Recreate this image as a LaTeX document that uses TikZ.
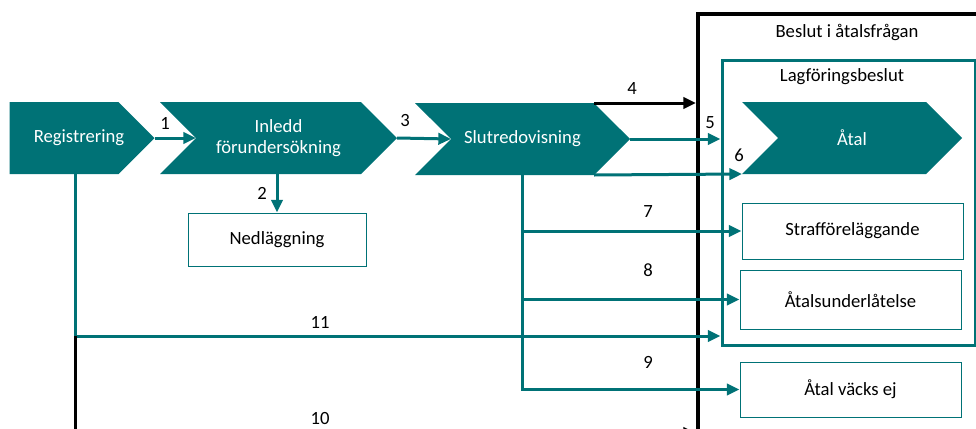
\documentclass[tikz,border=0pt]{standalone}
\usepackage{fontspec}
\setmainfont{Carlito}
\usetikzlibrary{shapes.symbols,arrows.meta,positioning}
\definecolor{petrol}{RGB}{0,114,118}

\tikzset{
  chevron/.style={signal, signal to=east, signal pointer angle=90, fill=petrol,
    text=white, minimum height=54pt, inner sep=0pt, outer sep=0pt, align=center},
  notched/.style={chevron, signal from=west},
  outcome/.style={draw=petrol, line width=0.75pt, minimum width=165.75pt, inner sep=0pt},
  flow/.style={petrol, line width=2.25pt, -{Triangle[length=9.5pt,width=8.5pt]}},
  plain/.style={petrol, line width=2.25pt},
  court/.style={black, line width=2.25pt, -{Triangle[length=9.5pt,width=8.5pt]}},
  num/.style={inner sep=0pt},
}

\begin{document}
\begin{tikzpicture}[x=0.75pt,y=-0.75pt,font=\fontsize{14}{15.5}\selectfont]
\useasboundingbox (0,0) rectangle (976,429);
\clip (0,0) rectangle (976,429);

% frames
\node[draw, line width=3pt, minimum width=226.5pt, minimum height=334.5pt] (beslut) at (849,237) {};
\node (beslutitle) at (847,32) {Beslut i åtalsfrågan};
\node[draw=petrol, line width=2.25pt, minimum width=189.75pt, minimum height=213.75pt] (lag) at (848.5,202.5) {};
\node (lagtitle) at (842,77) {Lagföringsbeslut};

% steps
\node[chevron, minimum width=108.75pt] (reg) at (64,138) {};
\node[text=white] (regtext) at (79,138) {Registrering};
\node[notched, minimum width=177.75pt] (inl) at (278.5,138) {Inledd\\förundersökning};
\node[notched, minimum width=161.25pt] (slut) at (522.5,139) {Slutredovisning};
\node[notched, minimum width=165pt] (atal) at (852,138) {Åtal};

% outcomes
\node[outcome, minimum width=133.5pt, minimum height=39.75pt] (ned) at (277,239.5) {Nedläggning};
\node[outcome, minimum height=42pt] (straff) at (852.5,231) {Strafföreläggande};
\node[outcome, minimum height=44.25pt] (under) at (850.5,299.5) {Åtalsunderlåtelse};
\node[outcome, minimum height=41.25pt] (vacks) at (850.5,389.5) {Åtal väcks ej};

\coordinate (rdrop) at (75,336);
\coordinate (rbottom) at (75,433);

% connectors
\draw[flow] (reg.east) -- (inl.west);
\draw[flow] (inl.south -| ned.north) -- (ned.north);
\draw[flow] (inl.east) -- (slut.west);
\draw[court] (slut.north east) -- (slut.north east -| beslut.west);
\draw[flow] (slut.east) -- (slut.east -| lag.west);
\draw[flow] (slut.south east) -- (atal.south west);
\draw[flow] (slut.south) |- (vacks.west);
\draw[flow] (slut.south |- straff.west) -- (straff.west);
\draw[flow] (slut.south |- under.west) -- (under.west);
\draw[plain] (reg.south -| rdrop) -- (rdrop);
\draw[flow] (rdrop) -- (rdrop -| lag.west);
\draw[court] (rdrop) |- (rbottom -| beslut.west);

% numbers
\node[num] (k1) at (165,123) {1};
\node[num] (k2) at (262,193) {2};
\node[num] (k3) at (405,121) {3};
\node[num] (k4) at (632,89) {4};
\node[num] (k5) at (710,123) {5};
\node[num] (k6) at (739,155) {6};
\node[num] (k7) at (648,212) {7};
\node[num] (k8) at (648,270) {8};
\node[num] (k9) at (648,362) {9};
\node[num] (k10) at (320,419) {10};
\node[num] (k11) at (320,322) {11};
\end{tikzpicture}
\end{document}
